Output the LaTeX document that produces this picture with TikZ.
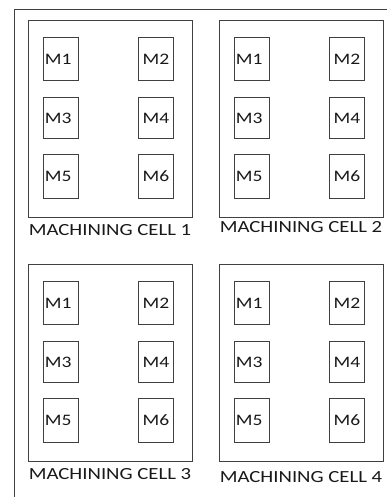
\documentclass[tikz,border=0pt]{standalone}
\usepackage{fontspec}
\setmainfont{Carlito}
\usepackage{graphicx}
\definecolor{linegray}{gray}{0.25}
\definecolor{inkgray}{gray}{0.1}
% horizontally widened lettering
\newcommand\widetext[1]{\scalebox{1.22}[1]{#1}}
\tikzset{
  frameline/.style={draw=linegray, line width=0.9pt},
  cellbox/.style={draw=linegray, line width=0.9pt, rectangle, inner sep=0pt,
    minimum width=164pt, minimum height=197pt},
  machine/.style={draw=linegray, line width=0.8pt, rectangle, inner ysep=0pt,
    inner xsep=1.5pt, text width=32pt, minimum height=#1, text=inkgray,
    font=\fontsize{16}{18}\selectfont},
  celltext/.style={inner sep=0pt, text=inkgray, font=\fontsize{17}{19}\selectfont},
}
\begin{document}
\begin{tikzpicture}[x=1pt, y=-1pt]
  \fill[white] (0,0) rectangle (387,497);
  \useasboundingbox (0,0) rectangle (387,497);

  % outer frame (top and left edges)
  \coordinate (frameTR) at (387,9);
  \coordinate (frameTL) at (14,9);
  \coordinate (frameBL) at (14,497);
  \draw[frameline] (frameTR) -- (frameTL) -- (frameBL);

  % four machining cells, six machines each
  \foreach \cx/\cy/\n/\ly in {28/20/1/230.5, 219/20/2/227, 28/264/3/474, 219/264/4/477.5}{
    \node[cellbox, anchor=north west] (cell\n) at (\cx,\cy) {};
    \node[celltext] (cellname\n) at (\cx+82,\ly) {\widetext{MACHINING CELL \n}};
    \foreach \k/\dx/\dy/\h/\al in {1/15/17/43/left, 2/110/17/43/center,
                                  3/15/77/41/left, 4/110/77/41/center,
                                  5/15/134/44/left, 6/110/134/44/center}{
      \node[machine=\h pt, align=\al, anchor=north west] (m\n\k)
        at (\cx+\dx,\cy+\dy) {\widetext{M\k}};
    }
  }
\end{tikzpicture}
\end{document}
